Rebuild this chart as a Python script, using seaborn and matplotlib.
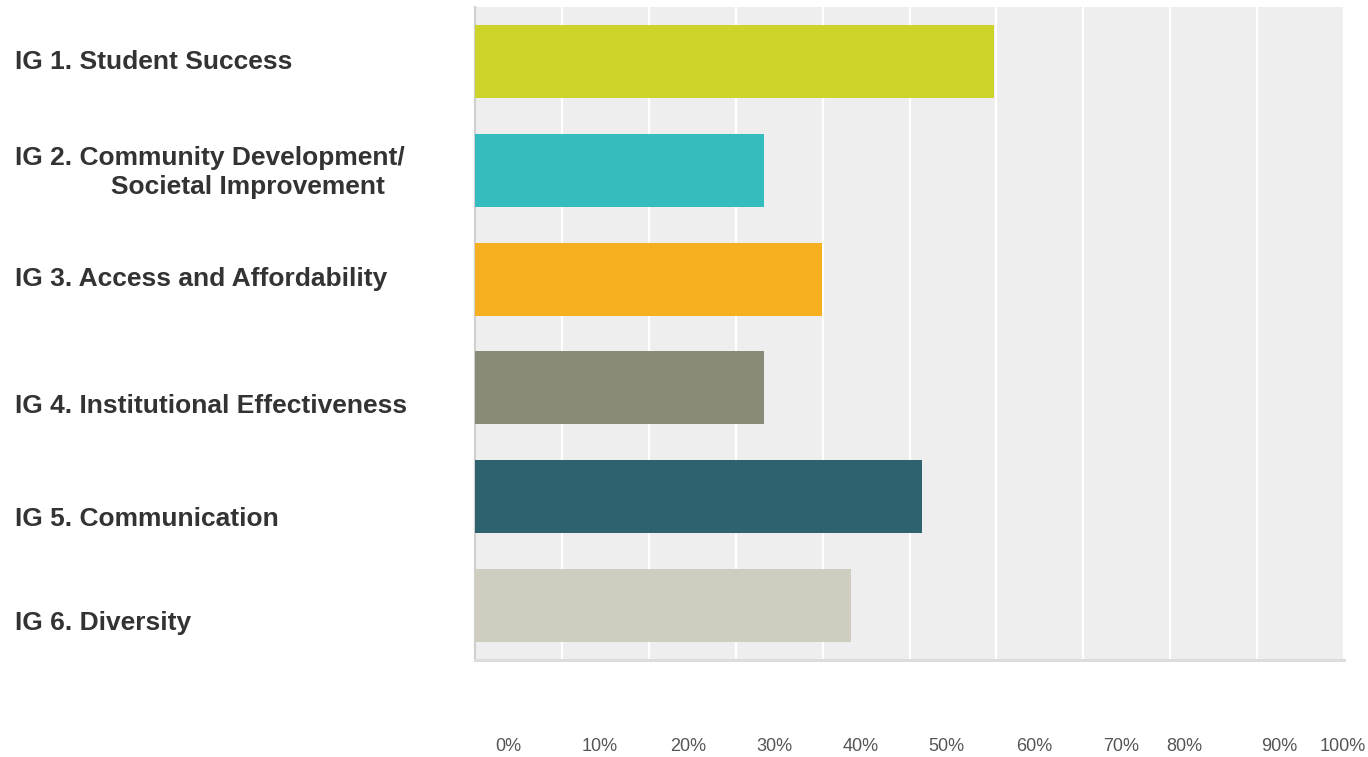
import matplotlib
matplotlib.use("Agg")
import matplotlib.pyplot as plt
import seaborn as sns
import pandas as pd

# ---- data ----
categories = [
    "IG 1. Student Success",
    "IG 2. Community Development/\n             Societal Improvement",
    "IG 3. Access and Affordability",
    "IG 4. Institutional Effectiveness",
    "IG 5. Communication",
    "IG 6. Diversity",
]
values = [59.7, 33.3, 39.9, 33.3, 51.4, 43.3]
colors = ["#CDD328", "#34BCBE", "#F5AF1F", "#8A8A79", "#2E626F", "#CFCDBF"]
grid_ticks = [0, 10, 20, 30, 40, 50, 60, 70, 80, 90, 100]
tick_labels = ["0%", "10%", "20%", "30%", "40%", "50%", "60%", "70%", "80%", "90%", "100%"]
# positions where the reference prints its (offset) tick labels
tick_label_pos = [3.85, 14.35, 24.5, 34.4, 44.4, 54.3, 64.4, 74.3, 81.6, 92.6, 99.9]
# vertical offsets of category labels relative to bar centres (last-line baseline)
label_offsets = [0.07, 0.215, 0.06, 0.23, 0.27, 0.22]

sns.set_theme(style="white")
plt.rcParams["font.family"] = ["Liberation Sans", "DejaVu Sans"]

fig = plt.figure(figsize=(13.68, 7.57), dpi=100)
ax = fig.add_axes([475 / 1368, (757 - 660) / 757, 869 / 1368, 653 / 757])
ax.set_facecolor("#EEEEEE")

df = pd.DataFrame({"cat": categories, "val": values})
sns.barplot(data=df, x="val", y="cat", hue="cat", palette=colors, orient="h",
            width=0.67, saturation=1, legend=False, ax=ax, zorder=3,
            linewidth=0, edgecolor="none")

ax.set_xlim(0, 100)
ax.set_ylim(5.5, -0.5)
ax.set_xlabel("")
ax.set_ylabel("")

# grid lines (major ticks, no labels)
ax.set_xticks(grid_ticks)
ax.set_xticklabels([])
ax.tick_params(axis="x", which="major", length=0)
ax.grid(axis="x", which="major", color="white", linewidth=1.6, zorder=1)
ax.set_axisbelow(True)

# tick labels (minor ticks)
ax.set_xticks(tick_label_pos, tick_labels, minor=True)
ax.tick_params(axis="x", which="minor", length=0, pad=56, labelsize=13,
               labelcolor="#555555")

# y labels drawn as text
ax.set_yticks([])
trans = ax.get_yaxis_transform()
for i, (lab, off) in enumerate(zip(categories, label_offsets)):
    ax.text(-0.529, i + off, lab, transform=trans, ha="left", va="baseline",
            fontsize=19, fontweight="bold", color="#333333", linespacing=1.25)

for s in ["top", "right"]:
    ax.spines[s].set_visible(False)
ax.spines["left"].set_color("#D0D0D0")
ax.spines["left"].set_linewidth(1.6)
ax.spines["bottom"].set_color("#DCDCDC")
ax.spines["bottom"].set_linewidth(2.2)

fig.savefig("out.png", dpi=100)
